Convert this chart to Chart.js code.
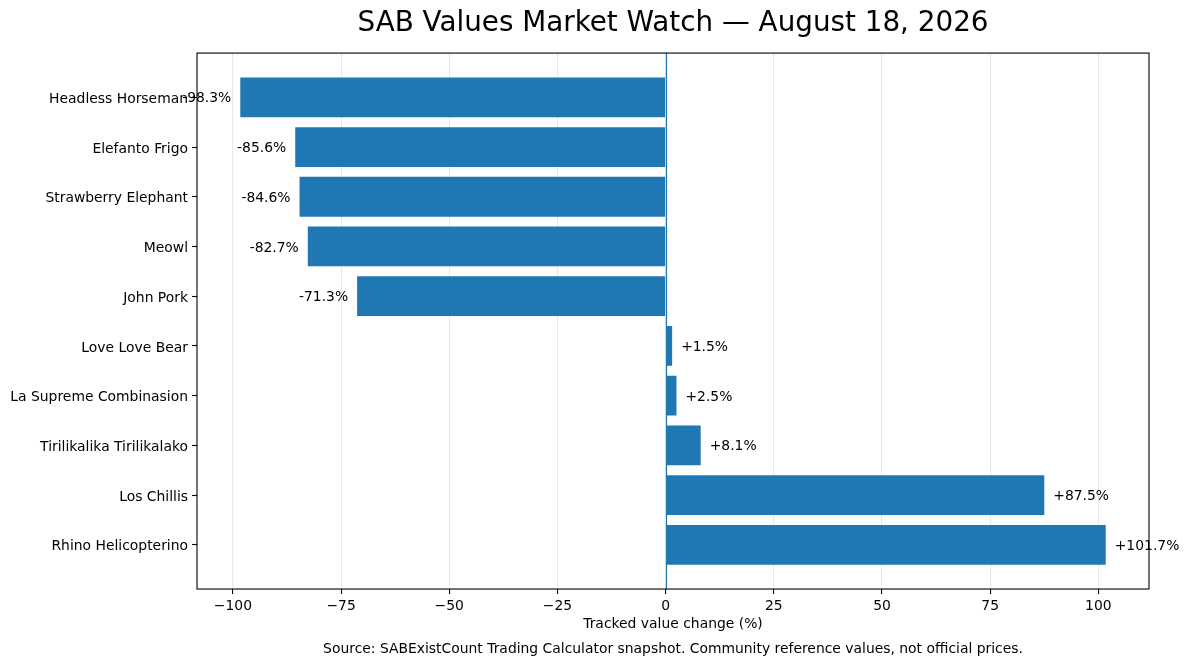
<!DOCTYPE html>
<html>
<head>
<meta charset="utf-8">
<script src="https://cdn.jsdelivr.net/npm/chart.js@4"></script>
<style>
html,body{margin:0;padding:0;background:#fff;}
#wrap{width:1189px;height:666px;}
</style>
</head>
<body>
<div id="wrap"><canvas id="c" width="1189" height="666"></canvas></div>
<script>
const categories = ["Headless Horseman","Elefanto Frigo","Strawberry Elephant","Meowl","John Pork","Love Love Bear","La Supreme Combinasion","Tirilikalika Tirilikalako","Los Chillis","Rhino Helicopterino"];
const changes = [-98.3,-85.6,-84.6,-82.7,-71.3,1.5,2.5,8.1,87.5,101.7];
const xTickValues = [-100,-75,-50,-25,0,25,50,75,100];
const xTickLabels = ["\u2212100","\u221275","\u221250","\u221225","0","25","50","75","100"];
const titleText = "SAB Values Market Watch \u2014 August 18, 2026";
const xAxisTitle = "Tracked value change (%)";
const sourceText = "Source: SABExistCount Trading Calculator snapshot. Community reference values, not official prices.";

const FONT = "'DejaVu Sans', sans-serif";
const BLUE = "#1f77b4";

const valueLabels = {
  id: 'valueLabels',
  afterDatasetsDraw(chart) {
    const ctx = chart.ctx;
    const xs = chart.scales.x, ys = chart.scales.y;
    ctx.save();
    ctx.font = "13.9px " + FONT;
    ctx.fillStyle = "#000";
    ctx.textBaseline = "middle";
    changes.forEach((v, i) => {
      const px = xs.getPixelForValue(v);
      const py = ys.getPixelForValue(i) + 1.5;
      const txt = (v >= 0 ? "+" : "") + v.toFixed(1) + "%";
      if (v >= 0) { ctx.textAlign = "left"; ctx.fillText(txt, px + 9, py); }
      else { ctx.textAlign = "right"; ctx.fillText(txt, px - 9, py); }
    });
    ctx.restore();
  },
  afterDraw(chart) {
    const a = chart.chartArea, ctx = chart.ctx;
    const xs = chart.scales.x;
    ctx.save();
    const zx = Math.round(xs.getPixelForValue(0)) + 0.5;
    ctx.strokeStyle = BLUE;
    ctx.lineWidth = 1.2;
    ctx.beginPath(); ctx.moveTo(zx, a.top); ctx.lineTo(zx, a.bottom); ctx.stroke();
    ctx.strokeStyle = "#000";
    ctx.lineWidth = 1.1;
    ctx.strokeRect(a.left, a.top, a.right - a.left, a.bottom - a.top);
    ctx.restore();
  }
};

new Chart(document.getElementById('c'), {
  type: 'bar',
  data: {
    datasets: [{
      data: changes.map((v, i) => ({x: v, y: i})),
      backgroundColor: BLUE,
      borderWidth: 0,
      barPercentage: 0.8,
      categoryPercentage: 1.0
    }]
  },
  options: {
    indexAxis: 'y',
    responsive: false,
    animation: false,
    devicePixelRatio: 1,
    layout: { padding: { left: 0, right: 40, top: 0, bottom: 0 } },
    plugins: {
      legend: { display: false },
      tooltip: { enabled: false },
      title: {
        display: true, text: titleText, fullSize: false,
        color: "#000", font: { family: FONT, size: 27.8, weight: 'normal' },
        padding: { top: 7, bottom: 12.7 }
      },
      subtitle: {
        display: true, text: sourceText, position: 'bottom', fullSize: false,
        color: "#000", font: { family: FONT, size: 13.9, weight: 'normal' },
        padding: { top: 4.2, bottom: 8.1 }
      }
    },
    scales: {
      x: {
        type: 'linear', min: -108.3, max: 111.7, z: 1,
        afterBuildTicks: s => { s.ticks = xTickValues.map(v => ({value: v})); },
        afterFit: s => { s.height = 48; },
        ticks: {
          color: "#000", font: { family: FONT, size: 13.9 }, padding: 4.5, maxRotation: 0,
          callback: (v) => { const k = xTickValues.indexOf(v); return k >= 0 ? xTickLabels[k] : ""; }
        },
        grid: {
          color: "rgba(176,176,176,0.3)",
          lineWidth: 1.1, tickColor: "#000", tickLength: 5, tickWidth: 1.1
        },
        border: { display: false },
        title: {
          display: true, text: xAxisTitle, color: "#000",
          font: { family: FONT, size: 13.9 }, padding: { top: 4, bottom: 4 }
        }
      },
      y: {
        type: 'linear', min: -0.89, max: 9.89, reverse: true, offset: false,
        afterBuildTicks: s => { s.ticks = categories.map((_, i) => ({value: i})); },
        afterFit: s => { s.width = 197; },
        ticks: {
          color: "#000", font: { family: FONT, size: 13.9 }, padding: 4, labelOffset: 2,
          callback: (v) => categories[v] !== undefined ? categories[v] : ""
        },
        grid: { offset: false, drawOnChartArea: false, tickColor: "#000", tickLength: 5, tickWidth: 1.1 },
        border: { display: false }
      }
    }
  },
  plugins: [valueLabels]
});
</script>
</body>
</html>
